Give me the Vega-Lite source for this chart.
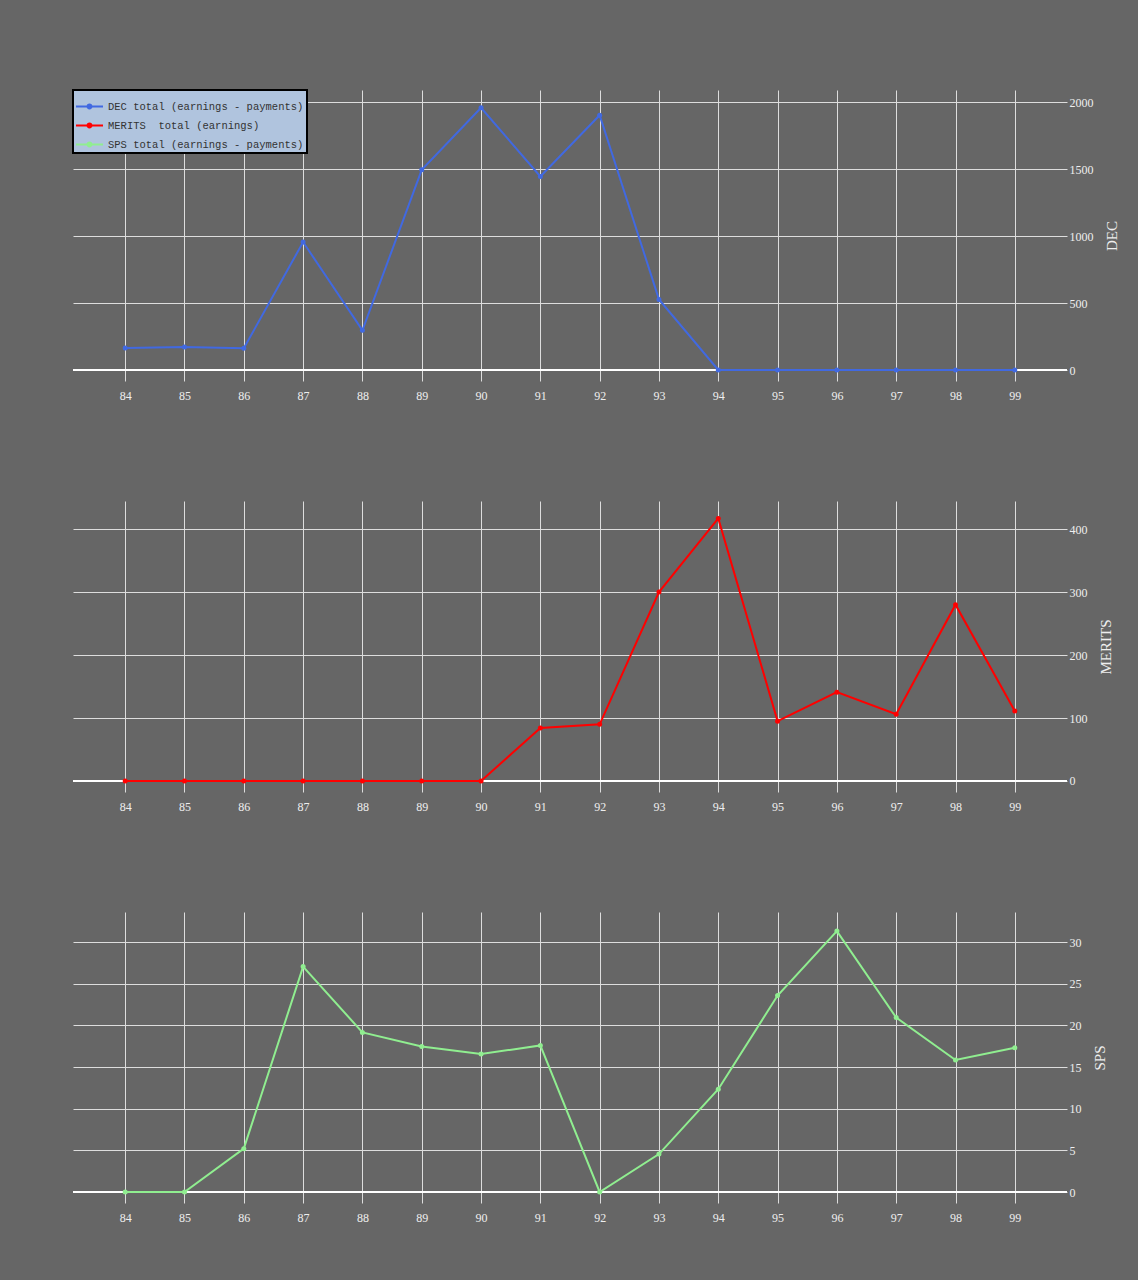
{
  "$schema": "https://vega.github.io/schema/vega-lite/v6.json",
  "background": "#666666",
  "padding": {"left": 72, "top": 89, "right": 20, "bottom": 58},
  "bounds": "flush",
  "spacing": 120,
  "data": {"values": [
    {"t": 84, "DEC": 164, "MERITS": 0, "SPS": 0},
    {"t": 85, "DEC": 172, "MERITS": 0, "SPS": 0},
    {"t": 86, "DEC": 162, "MERITS": 0, "SPS": 5.2},
    {"t": 87, "DEC": 955, "MERITS": 0, "SPS": 27.05},
    {"t": 88, "DEC": 296, "MERITS": 0, "SPS": 19.15},
    {"t": 89, "DEC": 1494, "MERITS": 0, "SPS": 17.47},
    {"t": 90, "DEC": 1957, "MERITS": 0, "SPS": 16.55},
    {"t": 91, "DEC": 1445, "MERITS": 84, "SPS": 17.59},
    {"t": 92, "DEC": 1902, "MERITS": 90, "SPS": 0},
    {"t": 93, "DEC": 527, "MERITS": 300, "SPS": 4.55},
    {"t": 94, "DEC": 0, "MERITS": 417, "SPS": 12.33},
    {"t": 95, "DEC": 0, "MERITS": 95, "SPS": 23.57},
    {"t": 96, "DEC": 0, "MERITS": 141, "SPS": 31.31},
    {"t": 97, "DEC": 0, "MERITS": 106, "SPS": 20.94},
    {"t": 98, "DEC": 0, "MERITS": 280, "SPS": 15.84},
    {"t": 99, "DEC": 0, "MERITS": 111, "SPS": 17.31}
  ]},
  "vconcat": [
    {
      "width": 994, "height": 291,
      "layer": [
        {"mark": {"type": "rule", "color": "#ffffff", "strokeWidth": 2},
         "encoding": {"y": {"datum": 0, "type": "quantitative", "scale": {"domain": [-82, 2090], "nice": false, "zero": false},
              "axis": {"orient": "right", "values": [0,500,1000,1500,2000], "title": "DEC"}}}},
        {"mark": {"type": "line", "color": "#4169e1", "strokeWidth": 2},
         "encoding": {
           "x": {"field": "t", "type": "quantitative", "scale": {"domain": [83.12, 99.88], "nice": false, "zero": false},
                 "axis": {"values": [84,85,86,87,88,89,90,91,92,93,94,95,96,97,98,99], "title": null}},
           "y": {"field": "DEC", "type": "quantitative"}}},
        {"mark": {"type": "point", "filled": true, "size": 25, "opacity": 1, "shape": "circle"},
         "encoding": {
           "x": {"field": "t", "type": "quantitative"},
           "y": {"field": "DEC", "type": "quantitative"},
           "color": {"datum": "DEC total (earnings - payments)",
             "scale": {"domain": ["DEC total (earnings - payments)", "MERITS\u00a0 total (earnings)", "SPS total (earnings - payments)"],
                       "range": ["#4169e1", "#ff0000", "#90ee90"]},
             "legend": {"title": null, "orient": "top-left", "offset": 0, "padding": 3,
               "fillColor": "#b0c4de", "strokeColor": "#000000",
               "labelFont": "Liberation Mono", "labelFontSize": 10.5, "labelColor": "#333333", "labelLimit": 0,
               "labelOffset": 5, "rowPadding": -2,
               "symbolType": "M-1,-0.075L1,-0.075L1,0.075L-1,0.075Z M0.22,0A0.22,0.22 0 1,1 -0.22,0A0.22,0.22 0 1,1 0.22,0Z",
               "symbolSize": 729, "symbolStrokeWidth": 0, "symbolOpacity": 1,
               "encode": {"legend": {"update": {"strokeWidth": {"value": 2}}}}}}
         }}
      ]
    },
    {
      "width": 994, "height": 291,
      "layer": [
        {"mark": {"type": "rule", "color": "#ffffff", "strokeWidth": 2},
         "encoding": {"y": {"datum": 0, "type": "quantitative", "scale": {"domain": [-17.5, 444.6], "nice": false, "zero": false},
              "axis": {"orient": "right", "values": [0,100,200,300,400], "title": "MERITS"}}}},
        {"mark": {"type": "line", "color": "#ff0000", "strokeWidth": 2},
         "encoding": {
           "x": {"field": "t", "type": "quantitative", "scale": {"domain": [83.12, 99.88], "nice": false, "zero": false},
                 "axis": {"values": [84,85,86,87,88,89,90,91,92,93,94,95,96,97,98,99], "title": null}},
           "y": {"field": "MERITS", "type": "quantitative"}}},
        {"mark": {"type": "point", "filled": true, "size": 25, "opacity": 1, "shape": "circle", "color": "#ff0000"},
         "encoding": {
           "x": {"field": "t", "type": "quantitative"},
           "y": {"field": "MERITS", "type": "quantitative"}}}
      ]
    },
    {
      "width": 994, "height": 291,
      "layer": [
        {"mark": {"type": "rule", "color": "#ffffff", "strokeWidth": 2},
         "encoding": {"y": {"datum": 0, "type": "quantitative", "scale": {"domain": [-1.32, 33.6], "nice": false, "zero": false},
              "axis": {"orient": "right", "values": [0,5,10,15,20,25,30], "title": "SPS"}}}},
        {"mark": {"type": "line", "color": "#90ee90", "strokeWidth": 2},
         "encoding": {
           "x": {"field": "t", "type": "quantitative", "scale": {"domain": [83.12, 99.88], "nice": false, "zero": false},
                 "axis": {"values": [84,85,86,87,88,89,90,91,92,93,94,95,96,97,98,99], "title": null}},
           "y": {"field": "SPS", "type": "quantitative"}}},
        {"mark": {"type": "point", "filled": true, "size": 25, "opacity": 1, "shape": "circle", "color": "#90ee90"},
         "encoding": {
           "x": {"field": "t", "type": "quantitative"},
           "y": {"field": "SPS", "type": "quantitative"}}}
      ]
    }
  ],
  "resolve": {"scale": {"x": "independent", "y": "independent"}},
  "config": {
    "view": {"stroke": null},
    "axis": {
      "domain": false, "ticks": false, "grid": true, "gridColor": "#dddddd", "gridWidth": 1, "gridOpacity": 1,
      "format": "d",
      "labelFont": "Liberation Serif", "labelFontSize": 12, "labelColor": "#eeeeee",
      "titleFont": "Liberation Serif", "titleFontSize": 15, "titleFontWeight": "normal", "titleColor": "#eeeeee"
    },
    "axisX": {"labelPadding": 9},
    "axisY": {"labelPadding": 2, "titleAngle": 270, "titleBaseline": "top", "titlePadding": 11}
  }
}
